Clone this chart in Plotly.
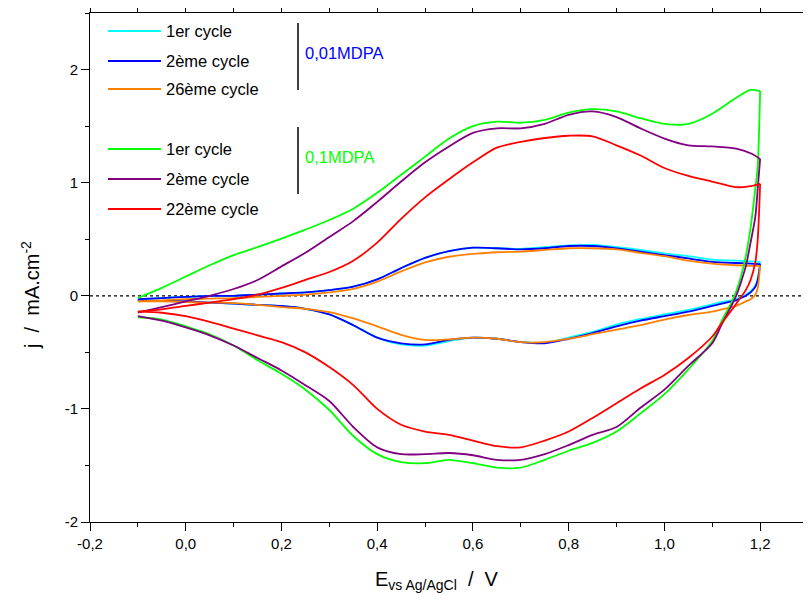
import plotly.graph_objects as go

# ---------------- data ----------------
E_fwd = [-0.1, -0.05, 0.0, 0.05, 0.1, 0.15, 0.2, 0.25, 0.3, 0.35, 0.4, 0.45, 0.5, 0.55,
         0.6, 0.65, 0.7, 0.75, 0.8, 0.85, 0.9, 0.95, 1.0, 1.05, 1.1, 1.15, 1.18, 1.2]
E_rev = [1.2, 1.195, 1.19, 1.18, 1.17, 1.16, 1.15, 1.14, 1.12, 1.1, 1.05, 1.0, 0.95, 0.9,
         0.85, 0.8, 0.75, 0.7, 0.65, 0.6, 0.55, 0.5, 0.45, 0.4, 0.35, 0.3, 0.25, 0.2,
         0.15, 0.1, 0.05, 0.0, -0.05, -0.1]

# 0,01 MDPA
cyc1_001_fwd = [-0.03, -0.02, -0.01, 0.0, 0.0, 0.01, 0.02, 0.03, 0.05, 0.08, 0.145, 0.245, 0.335, 0.395,
                0.425, 0.42, 0.415, 0.43, 0.445, 0.45, 0.43, 0.405, 0.375, 0.35, 0.32, 0.31, 0.305, 0.30]
cyc1_001_rev = [0.30, 0.15, 0.09, 0.04, 0.01, -0.01, -0.03, -0.04, -0.055, -0.075, -0.125, -0.165,
                -0.205, -0.255, -0.32, -0.37, -0.415, -0.41, -0.38, -0.37, -0.40, -0.44, -0.43,
                -0.37, -0.26, -0.165, -0.115, -0.09, -0.08, -0.07, -0.06, -0.05, -0.045, -0.04]
cyc2_001_fwd = [-0.03, -0.02, -0.01, 0.0, 0.0, 0.01, 0.02, 0.03, 0.05, 0.08, 0.145, 0.245, 0.335, 0.395,
                0.425, 0.42, 0.41, 0.42, 0.44, 0.44, 0.42, 0.39, 0.36, 0.33, 0.30, 0.29, 0.285, 0.28]
cyc2_001_rev = [0.28, 0.14, 0.08, 0.03, 0.0, -0.02, -0.04, -0.05, -0.07, -0.09, -0.14, -0.18,
                -0.22, -0.27, -0.33, -0.38, -0.42, -0.41, -0.38, -0.37, -0.39, -0.43, -0.42,
                -0.37, -0.26, -0.165, -0.115, -0.09, -0.08, -0.07, -0.06, -0.05, -0.045, -0.04]
cyc26_001_fwd = [-0.05, -0.04, -0.03, -0.025, -0.02, -0.01, 0.0, 0.01, 0.03, 0.06, 0.125, 0.215, 0.295,
                 0.345, 0.37, 0.385, 0.39, 0.405, 0.42, 0.42, 0.41, 0.38, 0.35, 0.31, 0.285, 0.27,
                 0.265, 0.265]
cyc26_001_rev = [0.265, 0.07, 0.01, -0.03, -0.05, -0.07, -0.09, -0.10, -0.12, -0.14, -0.17, -0.21,
                 -0.26, -0.30, -0.34, -0.38, -0.41, -0.41, -0.38, -0.37, -0.385, -0.39, -0.345,
                 -0.27, -0.20, -0.145, -0.115, -0.10, -0.08, -0.065, -0.06, -0.055, -0.05, -0.05]

# 0,1 MDPA
cyc1_01_fwd = [-0.02, 0.07, 0.17, 0.27, 0.36, 0.43, 0.505, 0.585, 0.67, 0.77, 0.91, 1.07, 1.23,
               1.39, 1.50, 1.54, 1.53, 1.555, 1.62, 1.65, 1.63, 1.57, 1.52, 1.52, 1.61, 1.75, 1.82, 1.81]
cyc1_01_rev = [1.81, 1.15, 0.95, 0.60, 0.35, 0.17, 0.04, -0.06, -0.22, -0.40, -0.65, -0.87, -1.04,
               -1.20, -1.30, -1.37, -1.45, -1.52, -1.52, -1.48, -1.45, -1.48, -1.47, -1.40, -1.24,
               -1.01, -0.83, -0.69, -0.57, -0.44, -0.34, -0.27, -0.21, -0.19]
cyc2_01_fwd = [-0.15, -0.10, -0.05, 0.0, 0.06, 0.14, 0.26, 0.38, 0.52, 0.66, 0.83, 1.01, 1.18, 1.32,
               1.44, 1.48, 1.48, 1.52, 1.60, 1.63, 1.58, 1.48, 1.39, 1.33, 1.32, 1.30, 1.26, 1.21]
cyc2_01_rev = [1.21, 0.95, 0.70, 0.47, 0.26, 0.12, 0.0, -0.09, -0.25, -0.42, -0.62, -0.83, -0.99,
               -1.16, -1.23, -1.32, -1.40, -1.45, -1.45, -1.41, -1.39, -1.40, -1.40, -1.34, -1.16,
               -0.93, -0.79, -0.66, -0.55, -0.44, -0.35, -0.28, -0.22, -0.18]
cyc22_01_fwd = [-0.14, -0.12, -0.09, -0.06, -0.03, 0.01, 0.07, 0.14, 0.21, 0.31, 0.47, 0.68, 0.87,
                1.03, 1.18, 1.31, 1.36, 1.395, 1.415, 1.41, 1.33, 1.24, 1.13, 1.06, 1.01, 0.96, 0.97, 0.99]
cyc22_01_rev = [0.99, 0.50, 0.30, 0.14, 0.05, -0.01, -0.07, -0.13, -0.24, -0.36, -0.55, -0.70,
                -0.82, -0.95, -1.08, -1.20, -1.28, -1.34, -1.33, -1.28, -1.23, -1.20, -1.14,
                -1.00, -0.79, -0.63, -0.50, -0.41, -0.35, -0.29, -0.23, -0.18, -0.15, -0.14]

legend_labels = ["1er cycle", "2ème cycle", "26ème cycle", "1er cycle", "2ème cycle", "22ème cycle"]
group_labels = ["0,01MDPA", "0,1MDPA"]

x_tickvals = [-0.2, 0.0, 0.2, 0.4, 0.6, 0.8, 1.0, 1.2]
x_ticktext = ["-0,2", "0,0", "0,2", "0,4", "0,6", "0,8", "1,0", "1,2"]
x_minor = [-0.1, 0.1, 0.3, 0.5, 0.7, 0.9, 1.1, 1.3]
y_tickvals = [-2, -1, 0, 1, 2]
y_ticktext = ["-2", "-1", "0", "1", "2"]
y_minor = [-1.5, -0.5, 0.5, 1.5, 2.5]

# ---------------- styling ----------------
colors = ["#00FFFF", "#0000FF", "#FF8000", "#00FF00", "#800080", "#FF0000"]
series = [
    (cyc1_001_fwd, cyc1_001_rev),
    (cyc2_001_fwd, cyc2_001_rev),
    (cyc26_001_fwd, cyc26_001_rev),
    (cyc1_01_fwd, cyc1_01_rev),
    (cyc2_01_fwd, cyc2_01_rev),
    (cyc22_01_fwd, cyc22_01_rev),
]
FONT = "Arial, Liberation Sans, sans-serif"

fig = go.Figure()
for (fwd, rev), col, lab in zip(series, colors, legend_labels):
    for xs, ys in ((E_fwd, fwd), (E_rev, rev)):
        fig.add_trace(go.Scatter(x=xs, y=ys, mode="lines", name=lab, showlegend=False,
                                 line=dict(color=col, width=1.8, shape="spline", smoothing=0.8)))

# page offset (default body margin) compensation
OFF = 8
W, H = 811, 603
# target plot box on the page: x 90..808, y 13..522
L = 90 - OFF
T = 13 - OFF
R = W + OFF - 808
B = H + OFF - 522
pw, ph = W - L - R, H - T - B


def P(px, py):
    """page pixel -> paper coords"""
    return (px - OFF - L) / pw, (H - B - (py - OFF)) / ph


shapes = []
annotations = []
# zero dotted line
shapes.append(dict(type="line", xref="paper", yref="y", x0=0, x1=1, y0=0, y1=0,
                   line=dict(color="black", width=1.2, dash="dot"), layer="below"))
# manual legend
rows = [31, 61, 89, 149, 179, 209]
for lab, col, py in zip(legend_labels, colors, rows):
    x0, y0 = P(108, py)
    x1, _ = P(161, py)
    shapes.append(dict(type="line", xref="paper", yref="paper", x0=x0, x1=x1, y0=y0, y1=y0,
                       line=dict(color=col, width=1.8)))
    tx, ty = P(164, py)
    annotations.append(dict(xref="paper", yref="paper", x=tx, y=ty, text=lab, showarrow=False,
                            xanchor="left", yanchor="middle",
                            font=dict(family=FONT, size=16.5, color="black")))
for (ya, yb) in ((23, 90), (127, 194)):
    x0, y0 = P(298, ya)
    _, y1 = P(298, yb)
    shapes.append(dict(type="line", xref="paper", yref="paper", x0=x0, x1=x0, y0=y0, y1=y1,
                       line=dict(color="black", width=1.5)))
for lab, col, (px, py) in zip(group_labels, ["#0000FF", "#00FF00"], [(303, 53), (303, 157)]):
    tx, ty = P(px, py)
    annotations.append(dict(xref="paper", yref="paper", x=tx, y=ty, text=lab, showarrow=False,
                            xanchor="left", yanchor="middle",
                            font=dict(family=FONT, size=16.5, color=col)))
# axis titles
tx, ty = P(437, 580)
annotations.append(dict(xref="paper", yref="paper", x=tx, y=ty, showarrow=False,
                        text="E<sub>vs Ag/AgCl</sub>\u00a0\u00a0/\u00a0\u00a0V",
                        xanchor="center", yanchor="middle",
                        font=dict(family=FONT, size=20, color="black")))
tx, ty = P(30, 295)
annotations.append(dict(xref="paper", yref="paper", x=tx, y=ty, showarrow=False, textangle=-90,
                        text="j\u00a0\u00a0/\u00a0\u00a0mA.cm<sup>-2</sup>",
                        xanchor="center", yanchor="middle",
                        font=dict(family=FONT, size=20, color="black")))

axis_common = dict(showgrid=False, zeroline=False, showline=True, linecolor="black", linewidth=1,
                   mirror="allticks", ticks="outside", ticklen=8, tickwidth=1, tickcolor="black",
                   automargin=False,
                   tickfont=dict(family=FONT, size=15, color="black"))

fig.update_layout(
    template="none",
    width=W, height=H,
    margin=dict(l=L, r=R, t=T, b=B, pad=0, autoexpand=False),
    paper_bgcolor="white", plot_bgcolor="white",
    font=dict(family=FONT, color="black"),
    showlegend=False,
    xaxis=dict(range=[-0.2, 1.3], tickmode="array", tickvals=x_tickvals, ticktext=x_ticktext,
               minor=dict(tickmode="array", tickvals=x_minor, ticks="outside", ticklen=4,
                          tickcolor="black", showgrid=False),
               **axis_common),
    yaxis=dict(range=[-2, 2.5], tickmode="array", tickvals=y_tickvals, ticktext=y_ticktext,
               minor=dict(tickmode="array", tickvals=y_minor, ticks="outside", ticklen=4,
                          tickcolor="black", showgrid=False),
               **axis_common),
    shapes=shapes,
    annotations=annotations,
)

fig.write_html("out.html")
